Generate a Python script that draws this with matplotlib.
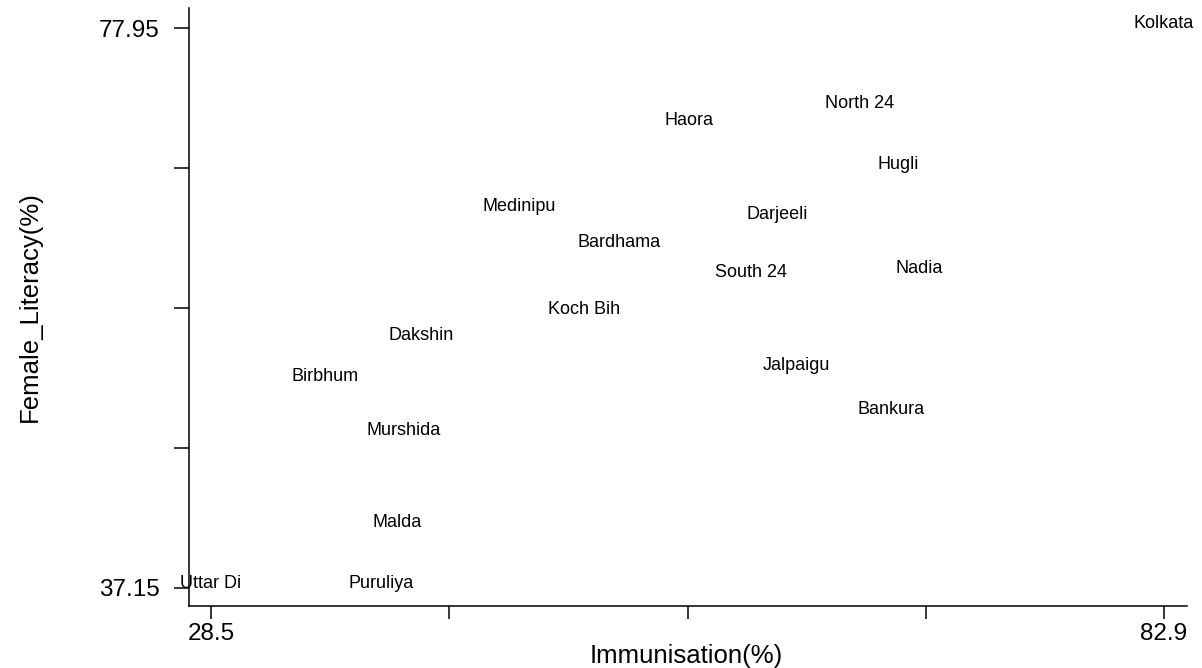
import matplotlib
matplotlib.use("Agg")
import matplotlib.pyplot as plt

# district names and values
districts = ["Kolkata", "North 24", "Haora", "Hugli", "Medinipu", "Darjeeli",
             "Bardhama", "South 24", "Nadia", "Koch Bih", "Dakshin", "Jalpaigu",
             "Birbhum", "Bankura", "Murshida", "Malda", "Uttar Di", "Puruliya"]
immunisation = [82.9, 65.5, 55.8, 67.7, 46.1, 60.8,
                51.8, 59.3, 68.9, 49.8, 40.5, 61.9,
                35.0, 67.3, 39.5, 39.1, 28.5, 38.2]
female_literacy = [77.95, 72.1, 70.9, 67.7, 64.6, 64.0,
                   62.0, 59.8, 60.1, 57.1, 55.2, 53.0,
                   52.2, 49.8, 48.3, 41.6, 37.15, 37.15]

xticks = [28.5, 42.1, 55.7, 69.3, 82.9]
yticks = [37.15, 47.35, 57.55, 67.75, 77.95]
xticklabels = ["28.5", "", "", "", "82.9"]
yticklabels = ["37.15", "", "", "", "77.95"]

plt.rcParams['font.family'] = ['Liberation Sans', 'DejaVu Sans']

fig = plt.figure(figsize=(12.02, 6.68), dpi=100)
ax = fig.add_axes([0.1572, 0.0928, 0.8303, 0.8952])

# labels as markers, baseline sits on the point
for name, xv, yv in zip(districts, immunisation, female_literacy):
    ax.text(xv, yv, name, ha='center', va='baseline', fontsize=13, color='black')

ax.set_xlim(27.24, 84.21)
ax.set_ylim(35.82, 79.41)

ax.set_xticks(xticks)
ax.set_xticklabels(xticklabels)
ax.set_yticks(yticks)
ax.set_yticklabels(yticklabels)

ax.spines['top'].set_visible(False)
ax.spines['right'].set_visible(False)
ax.spines['left'].set_linewidth(1.1)
ax.spines['bottom'].set_linewidth(1.1)

ax.tick_params(axis='x', length=9.5, width=1.1, pad=3, labelsize=17.5)
ax.tick_params(axis='y', length=11, width=1.1, pad=10, labelsize=17.5)

ax.set_xlabel('Immunisation(%)', fontsize=18.5)
ax.set_ylabel('Female_Literacy(%)', fontsize=18.5)
ax.xaxis.set_label_coords(0.4985, -0.064)
ax.yaxis.set_label_coords(-0.147, 0.5)

fig.savefig('out.png', dpi=100)
